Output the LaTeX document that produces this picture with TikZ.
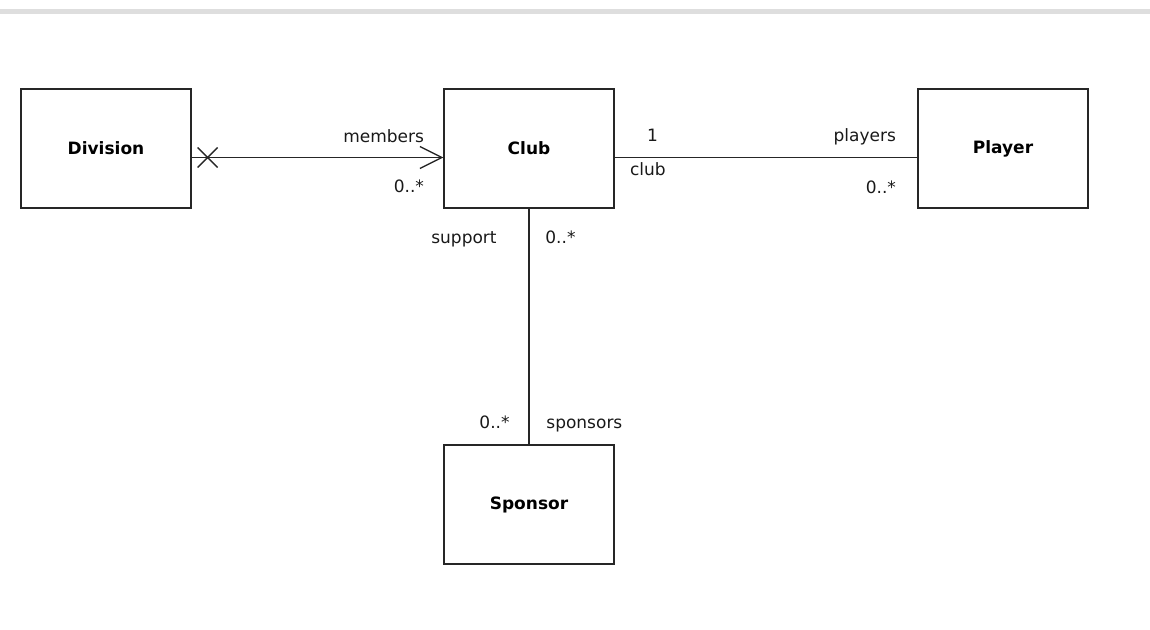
\documentclass[tikz,border=0pt]{standalone}
\usepackage{fontspec}
\setmainfont{DejaVu Sans}
\usetikzlibrary{arrows.meta,calc,positioning}

\tikzset{
  classbox/.style={draw=black!85, line width=0.65pt, minimum width=85pt,
    minimum height=59.5pt, inner sep=0pt,
    font=\fontsize{8.5}{10}\selectfont\bfseries},
  rolelabel/.style={inner sep=0pt, text=black!90,
    font=\fontsize{8.5}{10}\selectfont},
  assoc/.style={draw=black!85, line width=0.65pt},
  navarrow/.style={-{Straight Barb[length=11pt,width=11pt,line width=0.65pt]}},
}

\begin{document}
\begin{tikzpicture}[x=0.5pt,y=-0.5pt]

  \newcommand\LineDrop{9};
  \newcommand\CrossR{10};

  \useasboundingbox (0,0) rectangle (1150,629);
  \fill[black!13] (0,9) rectangle (1150,14);

  % classes
  \node[classbox] (division) at (106,148.5) {Division};
  \node[classbox] (club) at (529,148.5) {Club};
  \node[classbox] (player) at (1003,148.5) {Player};
  \node[classbox] (sponsor) at (529,504.5) {Sponsor};

  \coordinate (div-e) at ($(division.east)+(0,\LineDrop)$);
  \coordinate (club-w) at ($(club.west)+(0,\LineDrop)$);
  \coordinate (club-e) at ($(club.east)+(0,\LineDrop)$);
  \coordinate (player-w) at ($(player.west)+(0,\LineDrop)$);
  \coordinate (navx) at ($(div-e)+(16,0)$);

  % associations
  \draw[assoc, navarrow] (div-e) -- (club-w);
  \draw[assoc] ($(navx)+(-\CrossR,-\CrossR)$) -- ($(navx)+(\CrossR,\CrossR)$)
    ($(navx)+(-\CrossR,\CrossR)$) -- ($(navx)+(\CrossR,-\CrossR)$);
  \draw[assoc] (club-e) -- (player-w);
  \draw[assoc] (club.south) -- (sponsor.north);

  % role names and multiplicities
  \node[rolelabel, anchor=base east] (members) at ($(club-w)+(-19,-15.5)$) {members};
  \node[rolelabel, anchor=base east] (members-m) at ($(club-w)+(-19,35)$) {0..*};
  \node[rolelabel, anchor=base west] (club-m) at ($(club-e)+(32,-16)$) {1};
  \node[rolelabel, anchor=base west] (club-r) at ($(club-e)+(15,17.5)$) {club};
  \node[rolelabel, anchor=base east] (players) at ($(player-w)+(-21,-16)$) {players};
  \node[rolelabel, anchor=base east] (players-m) at ($(player-w)+(-21,35.5)$) {0..*};
  \node[rolelabel, anchor=base east] (support) at ($(club.south)+(-32,35)$) {support};
  \node[rolelabel, anchor=base west] (support-m) at ($(club.south)+(16,35)$) {0..*};
  \node[rolelabel, anchor=base east] (sponsors-m) at ($(sponsor.north)+(-19,-16)$) {0..*};
  \node[rolelabel, anchor=base west] (sponsors) at ($(sponsor.north)+(17,-16)$) {sponsors};

\end{tikzpicture}
\end{document}
